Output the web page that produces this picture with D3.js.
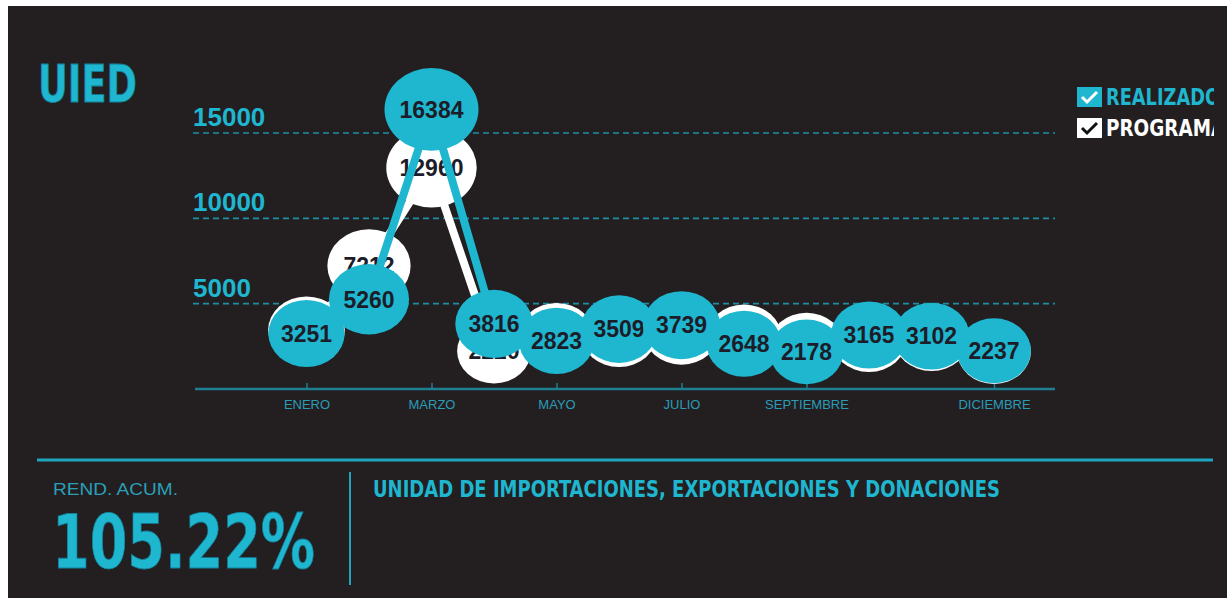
<!DOCTYPE html>
<html>
<head>
<meta charset="utf-8">
<script src="https://cdn.jsdelivr.net/npm/d3@7"></script>
<style>
  body { margin: 0; background: #ffffff; }
  svg { display: block; }
</style>
</head>
<body>
<svg id="chart" width="1227" height="598"></svg>
<script>
// Monthly figures for UIED
const months = ["ENERO", "FEBRERO", "MARZO", "ABRIL", "MAYO", "JUNIO", "JULIO", "AGOSTO", "SEPTIEMBRE", "OCTUBRE", "NOVIEMBRE", "DICIEMBRE"];
const realizado = [3251, 5260, 16384, 3816, 2823, 3509, 3739, 2648, 2178, 3165, 3102, 2237];
const programado = [3450, 7212, 12960, 2220, 3080, 3250, 3400, 3000, 2550, 2950, 3000, 2200];
const monthTickLabels = ["ENERO", "MARZO", "MAYO", "JULIO", "SEPTIEMBRE", "DICIEMBRE"];
const yTickValues = [5000, 10000, 15000];
const rendimiento = "105.22%";

const CYAN = "#1fb6d0";
const TEAL = "#1d8ea4";
const BG = "#231f20";
const INK = "#1c1d29";
const HEAVY = "'Liberation Sans Narrow', 'DejaVu Sans Condensed', 'Liberation Sans', sans-serif";
const SANS = "'Liberation Sans', Arial, sans-serif";

const svg = d3.select("#chart");

// panel background
svg.append("rect").attr("x", 8).attr("y", 6).attr("width", 1219).attr("height", 592).attr("fill", BG);

// scales
const x = d3.scalePoint().domain(months).range([306.5, 994]);
const y = d3.scaleLinear().domain([0, 15000]).range([389, 133]);
const r = d3.scaleSqrt().domain([0, 16384]).range([31, 47]);
const aspect = 0.88;

// title
svg.append("text")
  .attr("x", 38).attr("y", 102)
  .attr("font-family", HEAVY).attr("font-weight", "bold").attr("font-size", 52)
  .attr("textLength", 99).attr("lengthAdjust", "spacingAndGlyphs")
  .attr("fill", CYAN).attr("stroke", "#13809a").attr("stroke-width", 0.8)
  .text("UIED");

// horizontal grid + y labels
const grid = svg.append("g");
grid.selectAll("line").data(yTickValues).join("line")
  .attr("x1", 193).attr("x2", 1055)
  .attr("y1", d => y(d)).attr("y2", d => y(d))
  .attr("stroke", TEAL).attr("stroke-width", 1.6).attr("stroke-dasharray", "6,4");
grid.selectAll("text").data(yTickValues).join("text")
  .attr("x", 193).attr("y", d => y(d) - 7)
  .attr("font-family", SANS).attr("font-weight", "bold").attr("font-size", 26)
  .attr("fill", CYAN)
  .text(d => d);

// x axis
svg.append("line")
  .attr("x1", 195).attr("x2", 1055).attr("y1", y(0)).attr("y2", y(0))
  .attr("stroke", "#1e7f92").attr("stroke-width", 2.5);
const xAxis = svg.append("g")
  .attr("transform", `translate(0,${y(0)})`)
  .call(d3.axisBottom(x).tickValues(monthTickLabels).tickSize(-6).tickSizeOuter(0).tickPadding(11));
xAxis.select(".domain").remove();
xAxis.selectAll(".tick line").attr("stroke", "#1e7f92").attr("stroke-width", 1.5);
xAxis.selectAll(".tick text")
  .attr("font-family", SANS).attr("font-size", 13).attr("fill", "#2a9cb8");

// series drawing
const line = d3.line().x((d, i) => x(months[i])).y(d => y(d));

function drawSeries(values, fill, lineColor) {
  const g = svg.append("g");
  g.append("path").datum(values)
    .attr("d", line).attr("fill", "none")
    .attr("stroke", lineColor).attr("stroke-width", 8).attr("stroke-linejoin", "round");
  const nodes = g.selectAll("g.node").data(values).join("g")
    .attr("class", "node")
    .attr("transform", (d, i) => `translate(${x(months[i])},${y(d)})`);
  nodes.append("ellipse")
    .attr("rx", d => r(d)).attr("ry", d => r(d) * aspect)
    .attr("fill", fill);
  nodes.append("text")
    .attr("text-anchor", "middle").attr("dy", "0.36em")
    .attr("font-family", SANS).attr("font-weight", "bold").attr("font-size", 23)
    .attr("fill", INK)
    .text(d => d);
  return g;
}

// white: programado, drawn underneath
drawSeries(programado, "#ffffff", "#ffffff");
// cyan: realizado, drawn on top
drawSeries(realizado, CYAN, CYAN);

// legend (clipped at the panel edge)
svg.append("clipPath").attr("id", "legendClip")
  .append("rect").attr("x", 1060).attr("y", 70).attr("width", 154).attr("height", 90);
const legend = svg.append("g").attr("clip-path", "url(#legendClip)");
const legendItems = [
  { label: "REALIZADO", box: CYAN, check: "#ffffff", text: CYAN, y: 87, len: 114 },
  { label: "PROGRAMADO", box: "#ffffff", check: "#111111", text: "#ffffff", y: 118, len: 150 }
];
const li = legend.selectAll("g").data(legendItems).join("g")
  .attr("transform", d => `translate(1077,${d.y})`);
li.append("rect").attr("width", 25).attr("height", 20).attr("fill", d => d.box);
li.append("path")
  .attr("d", "M5,10 L10,15 L20,5")
  .attr("fill", "none").attr("stroke", d => d.check).attr("stroke-width", 3);
li.append("text")
  .attr("x", 29).attr("y", 18)
  .attr("font-family", HEAVY).attr("font-weight", "bold").attr("font-size", 23)
  .attr("textLength", d => d.len).attr("lengthAdjust", "spacingAndGlyphs")
  .attr("fill", d => d.text)
  .text(d => d.label);

// footer
svg.append("line").attr("x1", 37).attr("x2", 1213).attr("y1", 460).attr("y2", 460)
  .attr("stroke", "#1ea5bd").attr("stroke-width", 3);
svg.append("line").attr("x1", 350).attr("x2", 350).attr("y1", 472).attr("y2", 585)
  .attr("stroke", "#1ea5bd").attr("stroke-width", 2);
svg.append("text")
  .attr("x", 53).attr("y", 495)
  .attr("font-family", SANS).attr("font-size", 17)
  .attr("textLength", 125).attr("lengthAdjust", "spacingAndGlyphs")
  .attr("fill", "#2a9fb8")
  .text("REND. ACUM.");
svg.append("text")
  .attr("x", 52).attr("y", 568)
  .attr("font-family", HEAVY).attr("font-weight", "bold").attr("font-size", 74)
  .attr("textLength", 263).attr("lengthAdjust", "spacingAndGlyphs")
  .attr("fill", CYAN).attr("stroke", "#13809a").attr("stroke-width", 0.8)
  .text(rendimiento);
svg.append("text")
  .attr("x", 373).attr("y", 497)
  .attr("font-family", HEAVY).attr("font-weight", "bold").attr("font-size", 23)
  .attr("textLength", 627).attr("lengthAdjust", "spacingAndGlyphs")
  .attr("fill", CYAN)
  .text("UNIDAD DE IMPORTACIONES, EXPORTACIONES Y DONACIONES");
</script>
</body>
</html>
